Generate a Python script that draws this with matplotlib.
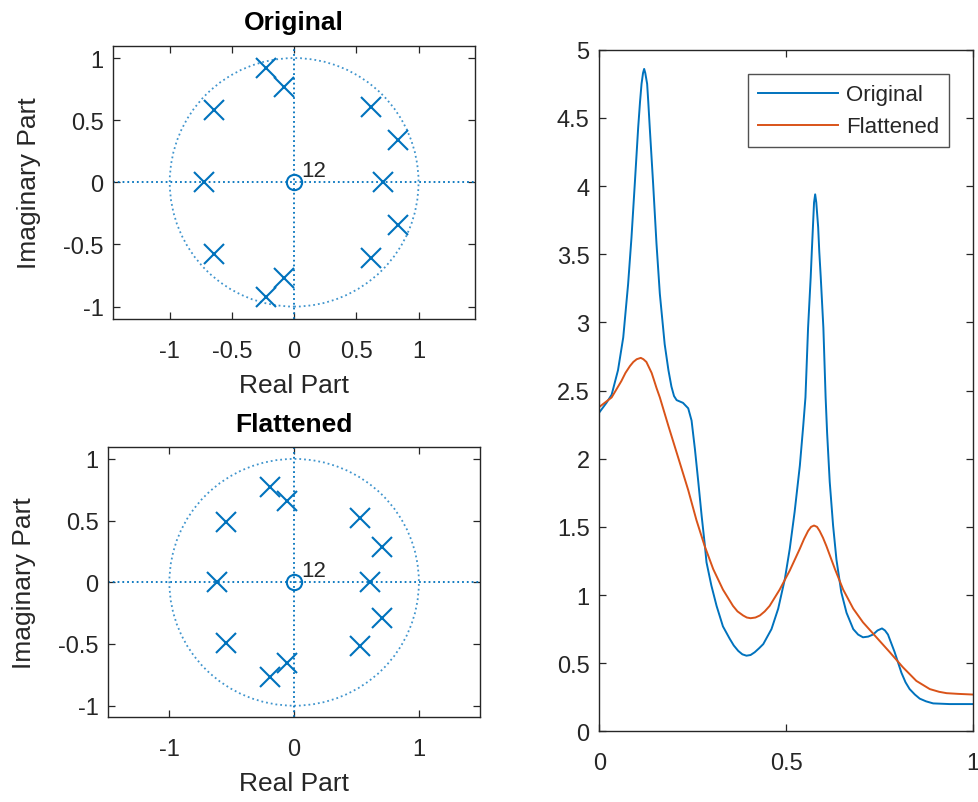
import numpy as np
import matplotlib
matplotlib.use("Agg")
import matplotlib.pyplot as plt
from matplotlib.patches import Circle

plt.rcParams['font.family'] = ['Liberation Sans', 'DejaVu Sans']
plt.rcParams['axes.unicode_minus'] = False

# pole / zero locations
orig_pole_re = [-0.23, -0.23, -0.08, -0.08, -0.645, -0.645, -0.725, 0.62, 0.62, 0.835, 0.835, 0.715]
orig_pole_im = [0.92, -0.92, 0.77, -0.77, 0.58, -0.58, 0.0, 0.61, -0.61, 0.34, -0.34, 0.0]
flat_pole_re = [-0.195, -0.195, -0.055, -0.055, -0.55, -0.55, -0.618, 0.528, 0.528, 0.702, 0.702, 0.608]
flat_pole_im = [0.77, -0.77, 0.655, -0.655, 0.49, -0.49, 0.0, 0.52, -0.52, 0.287, -0.287, 0.0]
zero_re = [0.0]
zero_im = [0.0]
zero_count = 12

# magnitude responses
orig_freq = [0.000, 0.019, 0.033, 0.050, 0.064, 0.077, 0.086, 0.095, 0.104, 0.109, 0.113,
             0.117, 0.120, 0.123, 0.128, 0.131, 0.135, 0.144, 0.153, 0.162, 0.175, 0.185,
             0.193, 0.200, 0.207, 0.224, 0.238, 0.247, 0.256, 0.265, 0.274, 0.282, 0.287,
             0.300, 0.314, 0.331, 0.349, 0.360, 0.372, 0.383, 0.394, 0.405, 0.416, 0.428,
             0.439, 0.461, 0.479, 0.497, 0.510, 0.523, 0.537, 0.546, 0.552, 0.559, 0.566,
             0.569, 0.572, 0.575, 0.578, 0.581, 0.586, 0.589, 0.593, 0.600, 0.606, 0.610,
             0.617, 0.626, 0.635, 0.648, 0.662, 0.680, 0.693, 0.706, 0.720, 0.733, 0.745,
             0.757, 0.765, 0.773, 0.791, 0.809, 0.820, 0.831, 0.845, 0.858, 0.875, 0.894,
             0.938, 1.000]
orig_mag = [2.34, 2.41, 2.47, 2.65, 2.89, 3.28, 3.62, 4.02, 4.43, 4.62, 4.75,
            4.83, 4.86, 4.83, 4.75, 4.62, 4.43, 4.02, 3.58, 3.21, 2.84, 2.65,
            2.53, 2.46, 2.43, 2.41, 2.37, 2.28, 2.07, 1.83, 1.58, 1.38, 1.24,
            1.07, 0.92, 0.77, 0.68, 0.63, 0.59, 0.565, 0.555, 0.56, 0.58, 0.61,
            0.64, 0.75, 0.90, 1.12, 1.34, 1.61, 1.95, 2.24, 2.45, 2.96, 3.33,
            3.52, 3.70, 3.88, 3.94, 3.88, 3.70, 3.52, 3.33, 2.96, 2.45, 2.19,
            1.83, 1.51, 1.26, 1.02, 0.87, 0.75, 0.71, 0.69, 0.695, 0.71, 0.74,
            0.755, 0.74, 0.71, 0.58, 0.43, 0.36, 0.31, 0.27, 0.24, 0.22, 0.205,
            0.20, 0.20]
flat_freq = [0.000, 0.033, 0.059, 0.070, 0.082, 0.091, 0.100, 0.111, 0.118, 0.126, 0.133,
             0.140, 0.146, 0.153, 0.162, 0.185, 0.211, 0.238, 0.260, 0.282, 0.305, 0.331,
             0.358, 0.370, 0.385, 0.395, 0.405, 0.418, 0.430, 0.443, 0.456, 0.483, 0.510,
             0.537, 0.548, 0.559, 0.567, 0.575, 0.583, 0.590, 0.599, 0.608, 0.631, 0.653,
             0.680, 0.706, 0.742, 0.778, 0.813, 0.849, 0.885, 0.910, 0.930, 0.960, 1.000]
flat_mag = [2.38, 2.45, 2.57, 2.63, 2.68, 2.71, 2.73, 2.74, 2.73, 2.71, 2.67,
            2.63, 2.58, 2.52, 2.45, 2.24, 2.01, 1.77, 1.55, 1.36, 1.19, 1.04,
            0.92, 0.88, 0.85, 0.835, 0.83, 0.835, 0.85, 0.88, 0.92, 1.04, 1.18,
            1.34, 1.41, 1.47, 1.50, 1.51, 1.50, 1.47, 1.42, 1.36, 1.19, 1.04,
            0.90, 0.80, 0.69, 0.58, 0.47, 0.37, 0.31, 0.29, 0.28, 0.275, 0.27]

BLUE = '#0072BD'
ORANGE = '#D95319'
DARK = '#262626'


def style_axes(ax):
    for s in ax.spines.values():
        s.set_color(DARK)
        s.set_linewidth(1.0)
    ax.tick_params(direction='in', length=5, width=0.9, colors=DARK, labelsize=17,
                   top=True, right=True)
    ax.tick_params(axis='x', pad=15)
    ax.tick_params(axis='y', pad=7)


def zplane(ax, pre, pim, title, xlim, ylim, xticks):
    ax.axhline(0, color=BLUE, ls=':', lw=1.3)
    ax.axvline(0, color=BLUE, ls=':', lw=1.3)
    ax.add_patch(Circle((0, 0), 1, fill=False, edgecolor=BLUE, ls=':', lw=1.3, alpha=0.75))
    ax.plot(pre, pim, 'x', color=BLUE, ms=14, mew=1.5)
    ax.plot(zero_re, zero_im, 'o', color=BLUE, ms=11, mew=1.5, mfc='none')
    ax.text(zero_re[0] + 0.06, zero_im[0] + 0.05, str(zero_count), fontsize=16, color=DARK)
    ax.set_xlim(*xlim)
    ax.set_ylim(*ylim)
    ax.set_xticks(xticks)
    ax.set_xticklabels([f'{t:g}' for t in xticks])
    yt = [-1, -0.5, 0, 0.5, 1]
    ax.set_yticks(yt)
    ax.set_yticklabels([f'{t:g}' for t in yt])
    ax.set_xlabel('Real Part', fontsize=19, color=DARK, labelpad=8)
    ax.set_ylabel('Imaginary Part', fontsize=19, color=DARK, labelpad=16)
    ax.set_title(title, fontsize=19, fontweight='bold', color='black', pad=12)
    style_axes(ax)


fig = plt.figure(figsize=(9.79, 8.03), dpi=100)

ax1 = fig.add_axes([0.1157, 0.6015, 0.3695, 0.3404])
zplane(ax1, orig_pole_re, orig_pole_im, 'Original', (-1.454, 1.454), (-1.10, 1.10),
       [-1, -0.5, 0, 0.5, 1])

ax2 = fig.add_axes([0.1106, 0.1055, 0.3797, 0.3362])
zplane(ax2, flat_pole_re, flat_pole_im, 'Flattened', (-1.49, 1.49), (-1.094, 1.094),
       [-1, 0, 1])

ax3 = fig.add_axes([0.6122, 0.088, 0.3814, 0.8487])
ax3.plot(orig_freq, orig_mag, color=BLUE, lw=1.4, label='Original')
ax3.plot(flat_freq, flat_mag, color=ORANGE, lw=1.4, label='Flattened')
ax3.set_xlim(0, 1)
ax3.set_ylim(0, 5)
ax3.set_xticks([0, 0.5, 1])
ax3.set_xticklabels(['0', '0.5', '1'])
yt = np.arange(0, 5.01, 0.5)
ax3.set_yticks(yt)
ax3.set_yticklabels([f'{t:g}' for t in yt])
style_axes(ax3)
leg = ax3.legend(loc='upper right', bbox_to_anchor=(0.937, 0.964), fontsize=16,
                 frameon=True, fancybox=False, edgecolor=DARK, handlelength=3.6,
                 handletextpad=0.35, borderpad=0.45, labelspacing=0.5, borderaxespad=0)
leg.get_frame().set_linewidth(1.0)
for t in leg.get_texts():
    t.set_color(DARK)

fig.savefig('out.png', dpi=100)
